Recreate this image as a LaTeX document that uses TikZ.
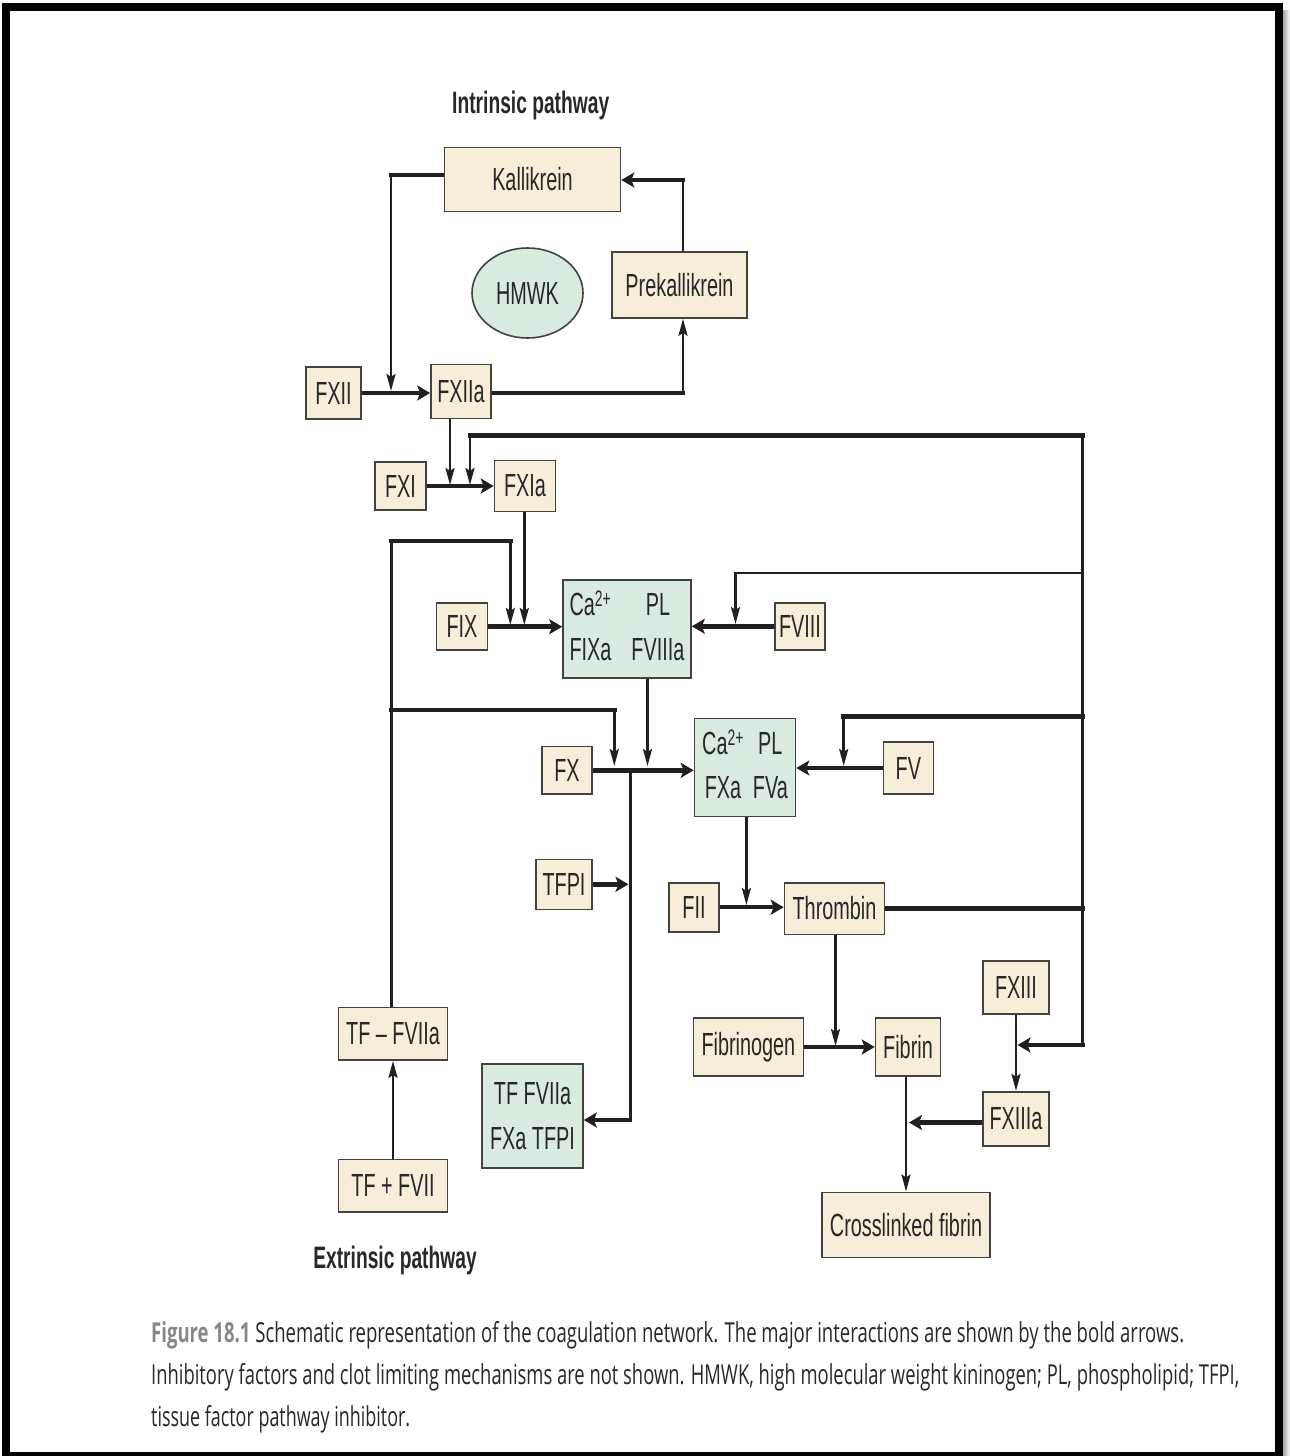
\documentclass[tikz,border=0pt]{standalone}
\usepackage{fontspec}
\usepackage{graphicx}
\setmainfont{Liberation Sans}
\newfontfamily\condf[FakeStretch=0.62]{Liberation Sans}
\newfontfamily\capf{Open Sans}
\usetikzlibrary{arrows.meta,calc,shapes.geometric}
\definecolor{cream}{RGB}{247,238,218}
\definecolor{mint}{RGB}{217,234,222}
\definecolor{ink}{RGB}{35,31,32}
\definecolor{txt}{RGB}{40,40,40}
\definecolor{capgray}{RGB}{135,135,135}
\pgfdeclarelayer{bg}
\pgfsetlayers{bg,main}
\begin{document}
\begin{tikzpicture}[x=1pt,y=-1pt,
  box/.style={draw=ink!85, line width=1.6pt, fill=cream, inner sep=0pt, text=txt,
    font=\condf\fontsize{32}{40}\selectfont},
  cbox/.style={box, fill=mint},
  sz/.style 2 args={minimum width=#1pt, minimum height=#2pt},
  thk/.style={line width=4.5pt, draw=ink, line cap=rect},
  thn/.style={line width=2.5pt, draw=ink, line cap=rect},
  mid/.style={line width=3pt, draw=ink, line cap=rect},
  athk/.style={-{Stealth[length=13pt,width=15pt,inset=3pt]}},
  athn/.style={-{Stealth[length=17pt,width=9pt,inset=3pt]}},
  lbl/.style={font=\condf\bfseries\fontsize{31}{36}\selectfont, text=txt, inner sep=0pt},
  captxt/.style={inner sep=0pt, anchor=base west, text=txt, font=\capf\fontsize{27.5}{32}\selectfont}
]
\useasboundingbox (0,0) rectangle (1290,1456);

% ---- nodes ----
\node[lbl, anchor=base] (intr) at (530.7,113.3) {Intrinsic pathway};
\node[lbl, anchor=base] (extr) at (395,1268) {Extrinsic pathway};

\node[box, sz={176}{64}] (kal) at (532.5,179.5) {Kallikrein};
\node[cbox, ellipse, sz={111}{90}] (hmwk) at (527.5,293) {HMWK};
\node[box, sz={135}{66}] (prek) at (679.5,285) {Prekallikrein};
\node[box, sz={55}{52}] (fxii) at (333.5,393) {FXII};
\node[box, sz={60}{54}] (fxiia) at (461,391.5) {FXIIa};
\node[box, sz={50.5}{48}] (fxi) at (400.5,486) {FXI};
\node[box, sz={61}{51}] (fxia) at (525,486) {FXIa};
\node[box, sz={51}{47}] (fix) at (462,626.7) {FIX};
\node[cbox, sz={128}{98}, font=\condf\fontsize{32}{45}\selectfont] (c1) at (627,629)
  {\raisebox{-5pt}{\begin{tabular}{@{}l@{\hspace{20pt}}c@{}}Ca\textsuperscript{2+} & PL\\ FIXa & FVIIIa\end{tabular}}};
\node[box, sz={50}{47}] (fviii) at (800,626.3) {FVIII};
\node[box, sz={50.5}{47.3}] (fx) at (567,770.3) {FX};
\node[cbox, sz={101}{98}, font=\condf\fontsize{32}{44}\selectfont] (c2) at (745,767.5)
  {\raisebox{-5pt}{\begin{tabular}{@{}c@{\hspace{9pt}}c@{}}Ca\textsuperscript{2+} & PL\\ FXa & FVa\end{tabular}}};
\node[box, sz={50}{52}] (fv) at (908.3,768) {FV};
\node[box, sz={56}{50}] (tfpi) at (564,884.3) {TFPI};
\node[box, sz={50}{49}] (fii) at (694,907.2) {FII};
\node[box, sz={100}{51.6}] (thr) at (834.5,908.5) {Thrombin};
\node[box, sz={109}{52.7}] (tffviia) at (393,1033.7) {TF – FVIIa};
\node[box, sz={109}{52.4}] (tffvii) at (393,1185.5) {TF + FVII};
\node[cbox, sz={101}{104}, align=center, font=\condf\fontsize{32}{45}\selectfont] (c3) at (532.5,1116)
  {TF FVIIa\\FXa TFPI};
\node[box, sz={110}{57.7}] (fibgen) at (748.4,1047) {Fibrinogen};
\node[box, sz={65}{57.7}] (fibrin) at (908,1047) {Fibrin};
\node[box, sz={168.5}{65}] (xlink) at (906,1224.8) {Crosslinked fibrin};
\node[box, sz={66}{53}] (fxiii) at (1016,987.5) {FXIII};
\node[box, sz={66}{54}] (fxiiia) at (1016,1118.7) {FXIIIa};

% ---- caption ----
\node[captxt] (cap1) at (151,1342) {\resizebox{1033pt}{\height}{\textcolor{capgray}{\bfseries Figure 18.1} Schematic representation of the coagulation network. The major interactions are shown by the bold arrows.}};
\node[captxt] (cap2) at (151,1384) {\resizebox{1088pt}{\height}{Inhibitory factors and clot limiting mechanisms are not shown. HMWK, high molecular weight kininogen; PL, phospholipid; TFPI,}};
\node[captxt] (cap3) at (151,1426) {\resizebox{259pt}{\height}{tissue factor pathway inhibitor.}};

% ---- coordinates ----
\coordinate (kA) at (391,175);
\coordinate (kB) at (391,391);
\coordinate (pA) at (683,393);
\coordinate (pB) at (683,180);
\coordinate (xA) at (450,485);
\coordinate (R1) at (1082.7,435.7);
\coordinate (R2) at (1082.7,1045);
\coordinate (tA) at (470,435.7);
\coordinate (tB) at (470,485);
\coordinate (vA) at (1082.7,573);
\coordinate (vB) at (735.5,573);
\coordinate (vC) at (735.5,624);
\coordinate (wA) at (1082.7,716.7);
\coordinate (wB) at (843.7,716.7);
\coordinate (wC) at (843.7,766);
\coordinate (qA) at (1017.5,1045);
\coordinate (aA) at (524.3,625);
\coordinate (eA) at (391.5,541);
\coordinate (eB) at (510.3,541);
\coordinate (eC) at (510.3,625);
\coordinate (eD) at (391.5,710);
\coordinate (eE) at (614.3,710);
\coordinate (eF) at (614.3,766);
\coordinate (cA) at (647.5,766);
\coordinate (bA) at (630.2,770);
\coordinate (bB) at (630.2,1120);
\coordinate (bT) at (628.5,884);
\coordinate (dA) at (746.4,905);
\coordinate (fA) at (835.5,1046);
\coordinate (hA) at (909,1122.5);

% ---- frame and connectors ----
\begin{pgfonlayer}{bg}
\fill[black] (2,3) rectangle (1283,1456);
\fill[white] (10,10.7) rectangle (1275,1451.7);
\shade[left color=gray!70, right color=white] (1283,10) rectangle (1290,1456);

\draw[thk] (kal.west |- kA) -- (kA);
\draw[thn,athn] (kA) -- (kB);
\draw[thk,athk] (fxii.east) -- (fxii.east -| fxiia.west);
\draw[thk] (fxiia.east |- pA) -- (pA);
\draw[thn,athn] (pA) -- (pA |- prek.south);
\draw[thn] (pA |- prek.north) -- (pB);
\draw[thk,athk] (pB) -- (pB -| kal.east);
\draw[thn,athn] (xA |- fxiia.south) -- (xA);
\draw[thk,athk] (fxi.east) -- (fxi.east -| fxia.west);

\draw[thk] (thr.east) -- (thr.east -| R1);
\draw[mid] (R1) -- (R2);
\draw[thk] (R1) -- (tA);
\draw[thn,athn] (tA) -- (tB);
\draw[thn] (vA) -- (vB);
\draw[thn,athn] (vB) -- (vC);
\draw[thk] (wA) -- (wB);
\draw[thn,athn] (wB) -- (wC);
\draw[thk,athk] (R2) -- (qA);

\draw[thn,athn] (fxia.south -| aA) -- (aA);
\draw[thn] (tffviia.north -| eA) -- (eA);
\draw[thk] (eA) -- (eB);
\draw[thn,athn] (eB) -- (eC);
\draw[thk] (eD) -- (eE);
\draw[thn,athn] (eE) -- (eF);
\draw[thk,athk] (fix.east) -- (fix.east -| c1.west);
\draw[thk,athk] (fviii.west) -- (fviii.west -| c1.east);
\draw[thn,athn] (c1.south -| cA) -- (cA);
\draw[thk,athk] (fx.east) -- (fx.east -| c2.west);
\draw[mid] (bA) -- (bB);
\draw[thk,athk] (bB) -- (bB -| c3.east);
\draw[thk,athk] (tfpi.east) -- (tfpi.east -| bT);
\draw[thk,athk] (fv.west) -- (fv.west -| c2.east);
\draw[thn,athn] (c2.south -| dA) -- (dA);
\draw[thk,athk] (fii.east) -- (fii.east -| thr.west);
\draw[thn,athn] (thr.south -| fA) -- (fA);
\draw[thk,athk] (fibgen.east) -- (fibgen.east -| fibrin.west);
\draw[thn,athn] (fibrin.south -| xlink.north) -- (xlink.north);
\draw[thn,athn] (fxiii.south) -- (fxiiia.north);
\draw[thk,athk] (fxiiia.west |- hA) -- (hA);
\draw[thn,athn] (tffvii.north) -- (tffviia.south);
\end{pgfonlayer}
\end{tikzpicture}
\end{document}
